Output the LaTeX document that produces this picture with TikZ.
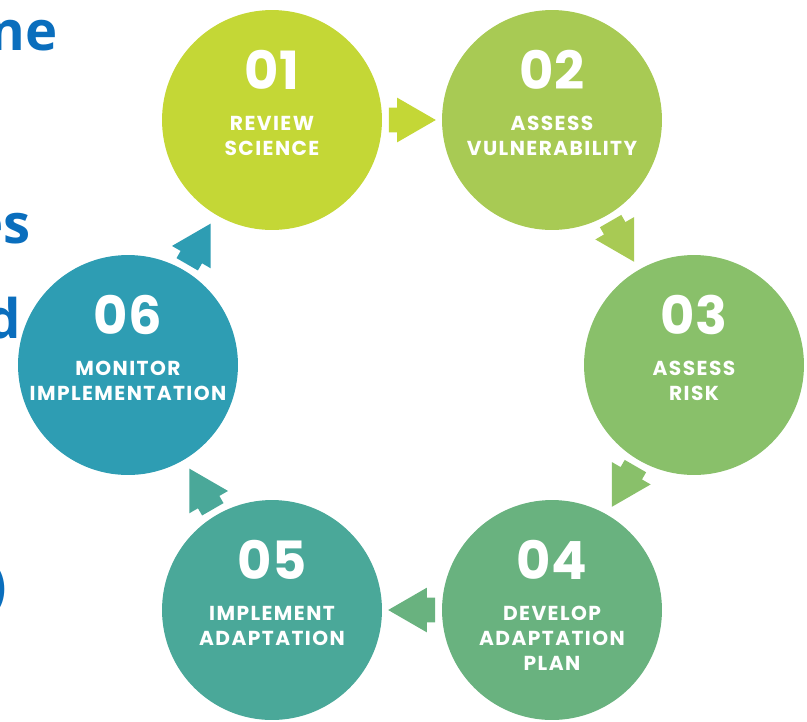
\documentclass[tikz,border=0pt]{standalone}
\usepackage{fontspec}
\usepackage{xcolor}
\usepackage{tikz}
\usetikzlibrary{
  shapes.arrows,
  positioning,
  calc
}
\newfontfamily\stagefont{Poppins}[LetterSpace=7]
\newfontfamily\numfont{Poppins}[LetterSpace=2]
\newfontfamily\slidefont{Open Sans}
\definecolor{stOne}{HTML}{C4D736}
\definecolor{stTwo}{HTML}{A8CA54}
\definecolor{stThree}{HTML}{89C06A}
\definecolor{stFour}{HTML}{69B27F}
\definecolor{stFive}{HTML}{4AA899}
\definecolor{stSix}{HTML}{2E9DB3}
\definecolor{slideBlue}{HTML}{0A6EBD}
\tikzset{
  stage/.style={circle, minimum size=4.4cm, inner sep=0pt, draw=none},
  stnum/.style={text=white, inner sep=0pt,
    font=\numfont\bfseries\fontsize{30}{30}\selectfont},
  sttext/.style={text=white, inner sep=0pt, anchor=north, align=center,
    font=\stagefont\bfseries\fontsize{11.5}{14.2}\selectfont},
  blockarrow/.style={single arrow, draw=none, anchor=tail,
    inner xsep=0pt, inner ysep=0.24cm, minimum height=0.94cm,
    single arrow head extend=0.2cm, single arrow tip angle=60},
  slidetext/.style={text=slideBlue, inner sep=0pt, anchor=base east,
    font=\slidefont\bfseries\fontsize{31}{31}\selectfont}
}
\begin{document}
\begin{tikzpicture}[x=0.02cm, y=-0.02cm]
  \useasboundingbox (0,0) rectangle (807,721);
  \clip (0,0) rectangle (807,721);
  % slide text cut off at the left edge
  \node[slidetext] (w1) at (58,50) {ne};
  \node[slidetext] (w2) at (31,243) {es};
  \node[slidetext] (w3) at (21,338) {d};
  \node[slidetext] (w4) at (7,604) {)};
  % the six stages
  \node[stage, fill=stOne] (s01) at (272,120) {};
  \node[stage, fill=stTwo] (s02) at (552,120) {};
  \node[stage, fill=stThree] (s03) at (694,365) {};
  \node[stage, fill=stFour] (s04) at (552,610) {};
  \node[stage, fill=stFive] (s05) at (272,610) {};
  \node[stage, fill=stSix] (s06) at (128,365) {};
  \node[stnum] (n01) at ([yshift=1cm]s01.center) {01};
  \node[stnum] (n02) at ([yshift=1cm]s02.center) {02};
  \node[stnum] (n03) at ([yshift=1cm]s03.center) {03};
  \node[stnum] (n04) at ([yshift=1cm]s04.center) {04};
  \node[stnum] (n05) at ([yshift=1cm]s05.center) {05};
  \node[stnum] (n06) at ([yshift=1cm]s06.center) {06};
  \node[sttext] (t01) at ([yshift=0.08cm]s01.center) {REVIEW\\SCIENCE};
  \node[sttext] (t02) at ([yshift=0.08cm]s02.center) {ASSESS\\VULNERABILITY};
  \node[sttext] (t03) at ([yshift=0.08cm]s03.center) {ASSESS\\RISK};
  \node[sttext] (t04) at ([yshift=0.08cm]s04.center) {DEVELOP\\ADAPTATION\\PLAN};
  \node[sttext] (t05) at ([yshift=0.08cm]s05.center) {IMPLEMENT\\ADAPTATION};
  \node[sttext] (t06) at ([yshift=0.08cm]s06.center) {MONITOR\\IMPLEMENTATION};
  % arrows between stages
  \node[blockarrow, fill=stOne] (a12) at ($(s01)!2.33cm!(s02)$) {};
  \node[blockarrow, fill=stTwo, rotate=-60] (a23) at ($(s02)!2.33cm!(s03)$) {};
  \node[blockarrow, fill=stThree, rotate=-120] (a34) at ($(s03)!2.33cm!(s04)$) {};
  \node[blockarrow, fill=stFour, rotate=180] (a45) at ($(s04)!2.33cm!(s05)$) {};
  \node[blockarrow, fill=stFive, rotate=120] (a56) at ($(s05)!2.33cm!(s06)$) {};
  \node[blockarrow, fill=stSix, rotate=60] (a61) at ($(s06)!2.33cm!(s01)$) {};
\end{tikzpicture}
\end{document}
